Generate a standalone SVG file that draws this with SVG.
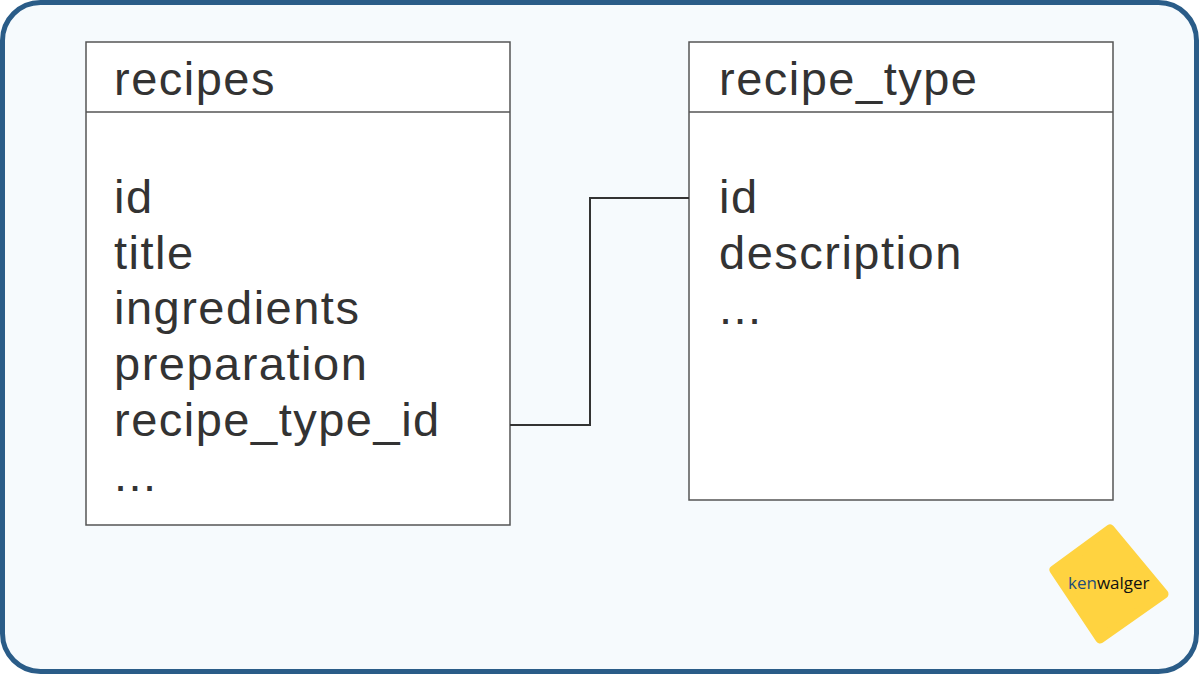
<svg xmlns="http://www.w3.org/2000/svg" width="1199" height="674" viewBox="0 0 1199 674">
<style>
.box{fill:#fff;stroke:#555;stroke-width:1.5}
.t{font-family:"Liberation Sans",Arial,sans-serif;font-size:47px;letter-spacing:1.5px;fill:#333}
.c{fill:none;stroke:#333;stroke-width:2}
</style>
<rect x="2.5" y="2.5" width="1194" height="669" rx="38" fill="#f6fafd" stroke="#2a5c88" stroke-width="5"/>
<g id="recipes">
<rect class="box" x="86" y="42" width="424" height="483"/>
<line class="box" x1="86" y1="112" x2="510" y2="112"/>
<text class="t" x="114" y="95">recipes</text>
<text class="t" x="114" y="213">id</text>
<text class="t" x="114" y="269">title</text>
<text class="t" x="114" y="324">ingredients</text>
<text class="t" x="114" y="380">preparation</text>
<text class="t" x="114" y="436">recipe_type_id</text>
<text class="t" x="114" y="491">...</text>
</g>
<g id="recipe_type">
<rect class="box" x="689" y="42" width="424" height="458"/>
<line class="box" x1="689" y1="112" x2="1113" y2="112"/>
<text class="t" x="719" y="95">recipe_type</text>
<text class="t" x="719" y="213">id</text>
<text class="t" x="719" y="269">description</text>
<text class="t" x="719" y="324">...</text>
</g>
<g id="connectors">
<polyline class="c" points="510,425 590,425 590,198 689,198"/>
</g>
<g id="logo">
<polygon points="1054,570 1110,529 1164,594 1100,639" fill="#ffd340" stroke="#ffd340" stroke-width="9" stroke-linejoin="round"/>
<text x="1068" y="589" font-family="'Open Sans','Liberation Sans',sans-serif" font-size="17" fill="#111"><tspan fill="#1f4e79">ken</tspan>walger</text>
</g>
</svg>
